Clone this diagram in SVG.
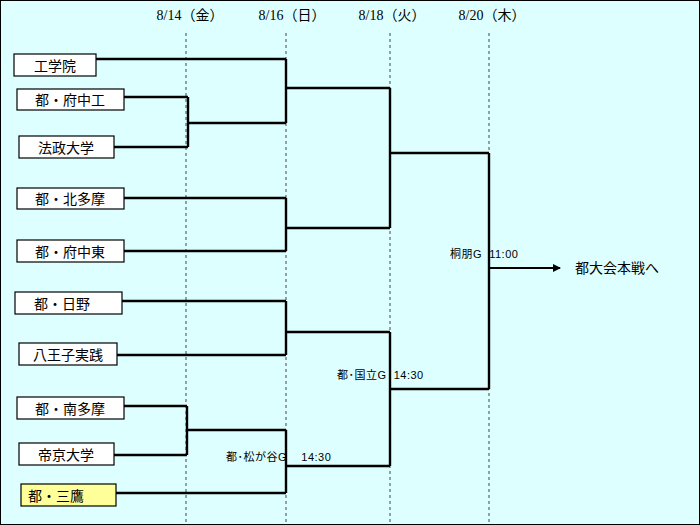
<svg xmlns="http://www.w3.org/2000/svg" width="700" height="525" viewBox="0 0 700 525">
<style>
.bx{fill:#fff;stroke:#000;stroke-width:1.2}
.t{font-family:"Liberation Sans","Noto Sans CJK JP",sans-serif;font-size:14px;text-anchor:middle}
.h{font-family:"Liberation Serif","Noto Sans CJK JP",serif;font-size:14px;text-anchor:middle}
.s{font-family:"Liberation Sans","Noto Sans CJK JP",sans-serif;font-size:11px;letter-spacing:0.5px}
.c{fill:none;stroke:#000;stroke-width:2.4}
.d{stroke:#444;stroke-width:1;stroke-dasharray:3,3}
</style>
<defs><marker id="ar" markerWidth="8" markerHeight="8" refX="7" refY="4" orient="auto" markerUnits="userSpaceOnUse"><path d="M0,0 L8,4 L0,8 Z"/></marker></defs>
<rect x="0" y="0" width="700" height="525" fill="#DDFFFF" stroke="#000" stroke-width="2"/>
<g id="headers">
<text class="h" x="190" y="20">8/14（金）</text>
<text class="h" x="292" y="20">8/16（日）</text>
<text class="h" x="392" y="20">8/18（火）</text>
<text class="h" x="492" y="20">8/20（木）</text>
<line class="d" x1="186" y1="33" x2="186" y2="525"/>
<line class="d" x1="286" y1="33" x2="286" y2="525"/>
<line class="d" x1="390" y1="33" x2="390" y2="525"/>
<line class="d" x1="489" y1="33" x2="489" y2="525"/>
</g>
<g id="connectors">
<path class="c" d="M96,59H286M124,97H188M114,147H188M188,97V147M188,123H286M286,59V123M286,88H390"/>
<path class="c" d="M124,198H286M124,251H286M286,198V251M286,228H390M390,88V228M390,153H489"/>
<path class="c" d="M122,301H286M117,355H286M286,301V355M286,332H390"/>
<path class="c" d="M124,406H187M114,455H187M187,406V455M187,430H286M116,493H286M286,430V493M286,466H390M390,332V466M390,389H489M489,153V389"/>
<line x1="489" y1="268" x2="560" y2="268" stroke="#000" stroke-width="2" marker-end="url(#ar)"/>
</g>
<g id="n1"><rect class="bx" x="14" y="54" width="82" height="22"/><text class="t" x="55" y="71">工学院</text></g>
<g id="n2"><rect class="bx" x="17" y="89" width="107" height="21"/><text class="t" x="70" y="105">都・府中工</text></g>
<g id="n3"><rect class="bx" x="19" y="136" width="95" height="22"/><text class="t" x="66" y="153">法政大学</text></g>
<g id="n4"><rect class="bx" x="17" y="188" width="107" height="21"/><text class="t" x="70" y="204">都・北多摩</text></g>
<g id="n5"><rect class="bx" x="17" y="240" width="107" height="22"/><text class="t" x="70" y="257">都・府中東</text></g>
<g id="n6"><rect class="bx" x="15" y="292" width="107" height="22"/><text class="t" x="62" y="309">都・日野</text></g>
<g id="n7"><rect class="bx" x="19" y="343" width="98" height="22"/><text class="t" x="68" y="360">八王子実践</text></g>
<g id="n8"><rect class="bx" x="17" y="397" width="107" height="22"/><text class="t" x="70" y="414">都・南多摩</text></g>
<g id="n9"><rect class="bx" x="19" y="443" width="95" height="22"/><text class="t" x="66" y="460">帝京大学</text></g>
<g id="n10"><rect class="bx" x="21" y="484" width="95" height="22" style="fill:#FFFF99"/><text class="t" x="56" y="501">都・三鷹</text></g>
<g id="labels">
<text class="s" x="450" y="258" xml:space="preserve">桐朋G  11:00</text>
<text class="s" x="337" y="379" xml:space="preserve">都･国立G  14:30</text>
<text class="s" x="226" y="461" xml:space="preserve">都･松が谷G    14:30</text>
<text class="t" x="575" y="273" style="text-anchor:start">都大会本戦へ</text>
</g>
</svg>
